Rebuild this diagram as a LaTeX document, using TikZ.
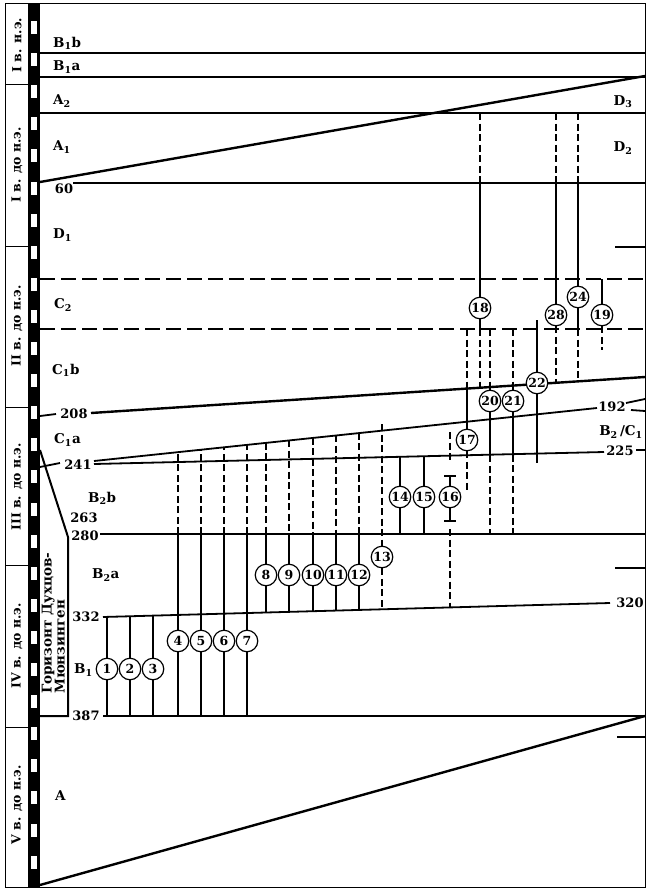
\documentclass[tikz,border=0pt]{standalone}
\usepackage{fontspec}
\setmainfont{DejaVu Serif}
\begin{document}
\begin{tikzpicture}[x=1pt,y=-1pt,
  hl/.style={line width=1.8pt},
  sl/.style={line width=2.4pt},
  vl/.style={line width=1.2pt},
  dl/.style={line width=1.2pt, dash pattern=on 7pt off 3.5pt},
  hd/.style={line width=1.8pt, dash pattern=on 15pt off 6pt},
  site/.style={circle, draw, line width=1.2pt, fill=white, minimum size=21.5pt, inner sep=0pt, font=\fontsize{12.5}{12.5}\selectfont\bfseries},
  lab/.style={inner sep=0pt, font=\fontsize{13.5}{13.5}\selectfont\bfseries},
  num/.style={inner sep=0pt, font=\fontsize{13}{13}\selectfont\bfseries},
  per/.style={inner sep=0pt, rotate=90, font=\fontsize{12.5}{12.5}\selectfont\bfseries},
]
\useasboundingbox (0,0) rectangle (650,891);
\fill[white] (0,0) rectangle (650,891);
% frame
\draw[line width=1pt] (5,4) rectangle (645,887);
\foreach \yy in {84,246,407,565,727} \draw[line width=0.9pt] (5,\yy) -- (28,\yy);
% film strip
\fill[black] (28,4) rectangle (40,887);
\foreach \i in {0,...,26} \fill[white] (31,21+32.1*\i) rectangle (37,34+32.1*\i);
% period labels
\node[per] (p1) at (17,45) {I в. н.э.};
\node[per] (p2) at (17,165) {I в. до н.э.};
\node[per] (p3) at (17,326) {II в. до н.э.};
\node[per] (p4) at (17,487) {III в. до н.э.};
\node[per] (p5) at (17,646) {IV в. до н.э.};
\node[per] (p6) at (17,805) {V в. до н.э.};
% horizontal boundaries
\draw[hl] (40,53) -- (645,53);
\draw[hl] (40,77) -- (645,77);
\draw[hl] (40,113) -- (645,113);
\draw[sl] (40,182) -- (645,76);
\draw[hl] (73,183) -- (645,183);
\draw[hl] (615,247) -- (645,247);
\draw[hd] (40,279) -- (645,279);
\draw[hd] (40,329) -- (645,329);
\draw[hl] (40,416) -- (56,414);
\draw[sl] (91,413) -- (645,377);
\draw[hl] (94,461) -- (597,408);
\draw[hl] (626,403) -- (645,399);
\draw[hl] (631,410) -- (645,411);
\draw[hl] (40,467) -- (60,463);
\draw[hl] (94,464) -- (604,452);
\draw[hl] (636,450) -- (645,450);
\draw[hl] (100,534) -- (645,534);
\draw[hl] (615,568) -- (645,568);
\draw[hl] (103,617) -- (610,603);
\draw[hl] (103,716) -- (645,716);
\draw[hl] (617,737) -- (645,737);
\draw[sl] (40,885) -- (645,716);
% horizon box
\draw[line width=2pt] (40,450) -- (68,537) -- (68,716) -- (40,716);
\node[rotate=90, anchor=north west, align=left, inner sep=0pt, font=\fontsize{13.5}{13}\selectfont\bfseries] (hor) at (41.5,694) {Горизонт Духцов-\\Мюнзинген};
% left labels
\node[lab,anchor=west] (lB1b) at (53,43) {B\textsubscript{1}b};
\node[lab,anchor=west] (lB1a) at (53,67) {B\textsubscript{1}a};
\node[lab,anchor=west] (lA2) at (53,101) {A\textsubscript{2}};
\node[lab,anchor=west] (lA1) at (53,147) {A\textsubscript{1}};
\node[lab,anchor=west] (lD1) at (53,235) {D\textsubscript{1}};
\node[lab,anchor=west] (lC2) at (54,305) {C\textsubscript{2}};
\node[lab,anchor=west] (lC1b) at (52,370) {C\textsubscript{1}b};
\node[lab,anchor=west] (lC1a) at (54,440) {C\textsubscript{1}a};
\node[lab,anchor=west] (lB2b) at (88,498) {B\textsubscript{2}b};
\node[lab,anchor=west] (lB2a) at (92,575) {B\textsubscript{2}a};
\node[lab,anchor=west] (lB1) at (74,670) {B\textsubscript{1}};
\node[lab,anchor=west] (lA) at (55,796) {A};
\node[num] (n60) at (64,189) {60};
\node[num] (n208) at (74,414) {208};
\node[num] (n241) at (78,465) {241};
\node[num] (n263) at (84,518) {263};
\node[num] (n280) at (85,536) {280};
\node[num] (n332) at (86,617) {332};
\node[num] (n387) at (86,716) {387};
% right labels
\node[lab] (lD3) at (623,102) {D\textsubscript{3}};
\node[lab] (lD2) at (623,148) {D\textsubscript{2}};
\node[num] (n192) at (612,407) {192};
\node[lab] (lB2C1) at (621,432) {B\textsubscript{2}\,/C\textsubscript{1}};
\node[num] (n225) at (620,451) {225};
\node[num] (n320) at (630,603) {320};
% sites
\node[site] (c1) at (107,669) {1};
\node[site] (c2) at (130,669) {2};
\node[site] (c3) at (153,669) {3};
\node[site] (c4) at (178,641) {4};
\node[site] (c5) at (201,641) {5};
\node[site] (c6) at (224,641) {6};
\node[site] (c7) at (247,641) {7};
\node[site] (c8) at (266,575) {8};
\node[site] (c9) at (289,575) {9};
\node[site] (c10) at (313,575) {10};
\node[site] (c11) at (336,575) {11};
\node[site] (c12) at (359,575) {12};
\node[site] (c13) at (382,557) {13};
\node[site] (c14) at (400,497) {14};
\node[site] (c15) at (424,497) {15};
\node[site] (c16) at (450,497) {16};
\node[site] (c17) at (467,440) {17};
\node[site] (c18) at (480,308) {18};
\node[site] (c19) at (602,315) {19};
\node[site] (c20) at (490,401) {20};
\node[site] (c21) at (513,401) {21};
\node[site] (c22) at (537,383) {22};
\node[site] (c28) at (556,315) {28};
\node[site] (c24) at (578,297) {24};
% 1-3
\draw[vl] (c1.north) -- (107,617); \draw[vl] (c1.south) -- (107,716);
\draw[vl] (c2.north) -- (130,616.3); \draw[vl] (c2.south) -- (130,716);
\draw[vl] (c3.north) -- (153,615.6); \draw[vl] (c3.south) -- (153,716);
% 4-7
\foreach \n/\xx/\yt in {4/178/452, 5/201/449.5, 6/224/447, 7/247/444.6} {
  \draw[vl] (c\n.south) -- (\xx,716);
  \draw[vl] (c\n.north) -- (\xx,534);
  \draw[dl] (\xx,534) -- (\xx,\yt);
}
% 8-12
\foreach \n/\xx/\yt/\yb in {8/266/442.5/612.5, 9/289/440.1/611.9, 10/313/437.5/611.2, 11/336/435/610.6, 12/359/432.5/609.9} {
  \draw[dl] (\xx,\yt) -- (\xx,534);
  \draw[vl] (\xx,534) -- (c\n.north);
  \draw[vl] (c\n.south) -- (\xx,\yb);
}
% 13
\draw[dl] (382,424) -- (c13.north);
\draw[dl] (c13.south) -- (382,609.3);
% 14, 15
\draw[vl] (400,457.3) -- (c14.north); \draw[vl] (c14.south) -- (400,534);
\draw[vl] (424,456.8) -- (c15.north); \draw[vl] (c15.south) -- (424,534);
% 16
\draw[dl] (450,432) -- (450,462);
\draw[vl] (444,476) -- (456,476);
\draw[vl] (450,476) -- (c16.north);
\draw[vl] (c16.south) -- (450,521);
\draw[vl] (444,521) -- (456,521);
\draw[dl] (450,529) -- (450,607.4);
% 17
\draw[dl] (467,329) -- (467,388.6);
\draw[vl] (467,388.6) -- (c17.north);
\draw[dl] (c17.south) -- (467,490);
% 18
\draw[dl] (480,113) -- (480,183);
\draw[vl] (480,183) -- (c18.north);
\draw[vl] (c18.south) -- (480,329);
\draw[dl] (480,329) -- (480,387.7);
% 19
\draw[vl] (602,279) -- (c19.north);
\draw[dl] (c19.south) -- (602,350);
% 20, 21
\foreach \n/\xx/\ya/\yb in {20/490/387.1/455.4, 21/513/385.6/454.9} {
  \draw[dl] (\xx,329) -- (\xx,\ya);
  \draw[vl] (\xx,\ya) -- (c\n.north);
  \draw[vl] (c\n.south) -- (\xx,\yb);
  \draw[dl] (\xx,\yb) -- (\xx,534);
}
% 22
\draw[vl] (537,320) -- (c22.north);
\draw[vl] (c22.south) -- (537,463);
% 28
\draw[dl] (556,113) -- (556,183);
\draw[vl] (556,183) -- (c28.north);
\draw[dl] (c28.south) -- (556,382.8);
% 24
\draw[dl] (578,113) -- (578,183);
\draw[vl] (578,183) -- (c24.north);
\draw[vl] (c24.south) -- (578,329);
\draw[dl] (578,329) -- (578,381.4);
\end{tikzpicture}
\end{document}
